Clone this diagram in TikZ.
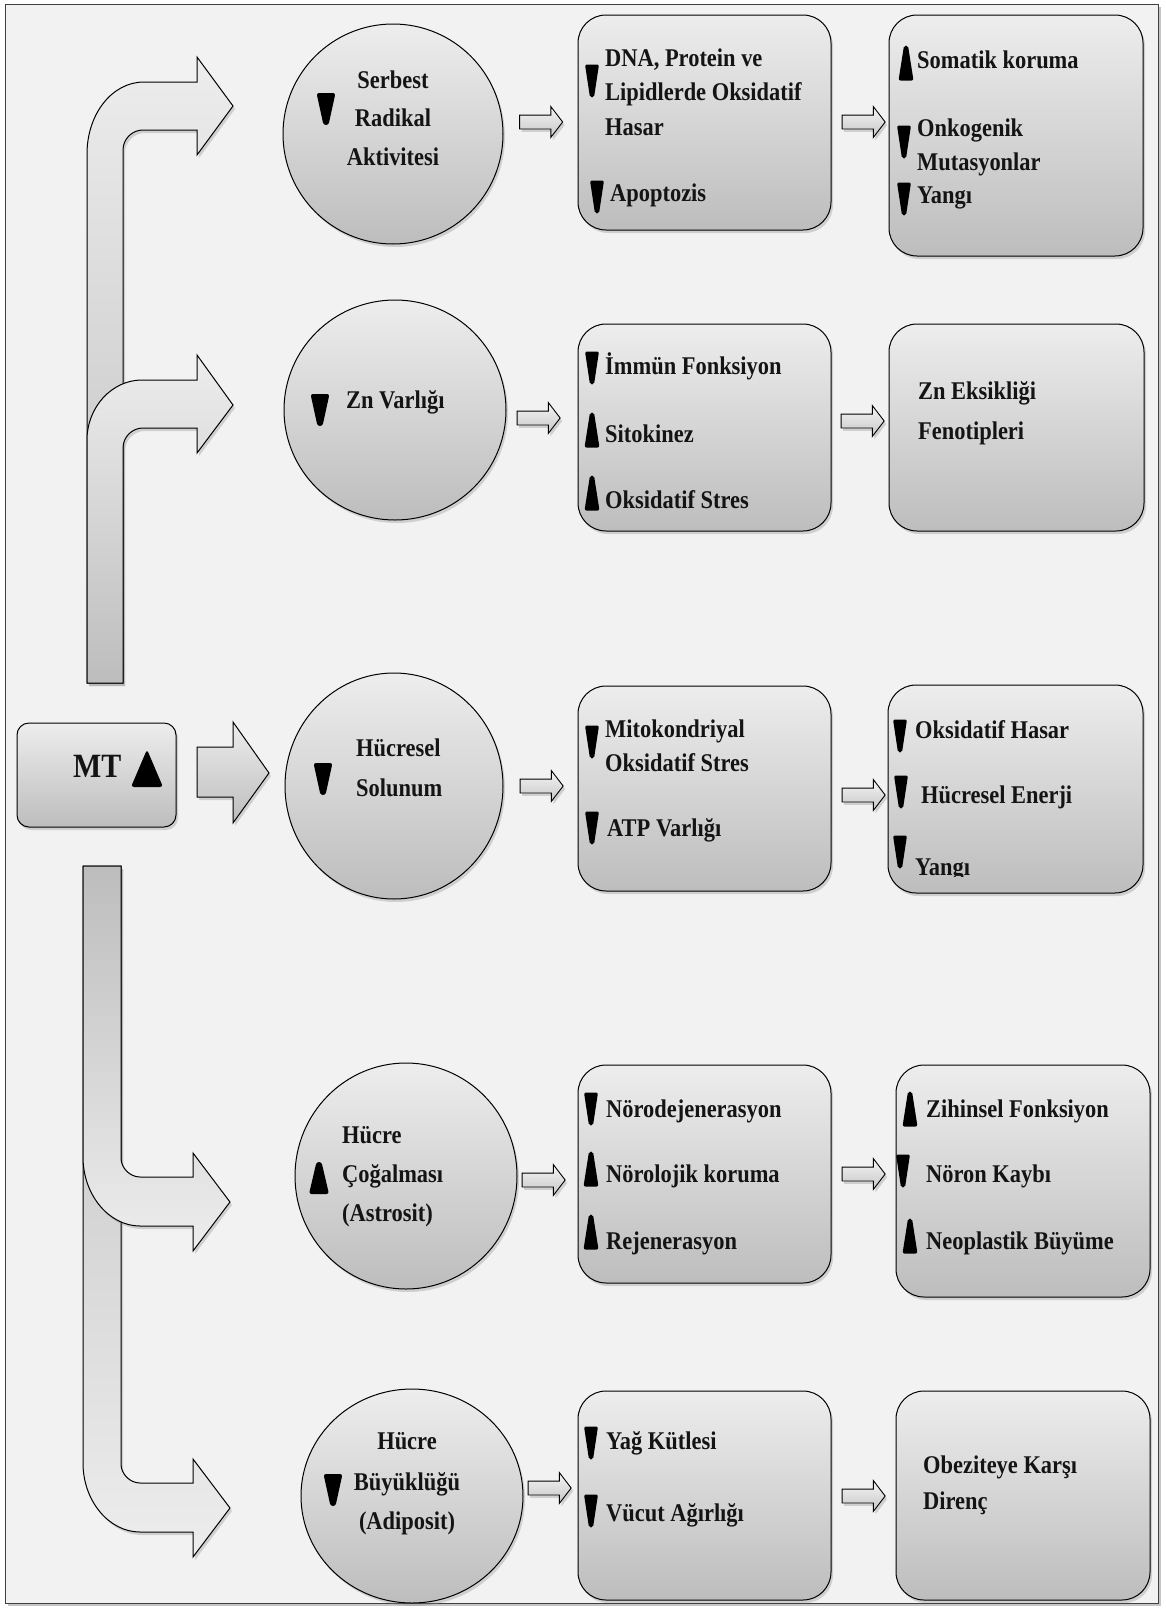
\documentclass[tikz,border=0pt]{standalone}
\usepackage{fontspec}
\setmainfont{Liberation Serif}[FakeStretch=0.88]
\usetikzlibrary{shapes.geometric,shapes.arrows,shadows}
\definecolor{bgc}{HTML}{F2F2F2}
\definecolor{topc}{HTML}{EDEDED}
\definecolor{botc}{HTML}{BDBDBD}
\definecolor{txt}{HTML}{141414}
\begin{document}
\begin{tikzpicture}[x=1pt,y=-1pt,
  every node/.style={font=\fontsize{25.5}{30}\selectfont\bfseries, inner sep=0pt, text=txt},
  shd/.style={drop shadow={shadow xshift=2pt,shadow yshift=-3pt,opacity=0.3}},
  gshade/.style={top color=topc,bottom color=botc},
  rshade/.style={top color=botc,bottom color=topc},
  circ/.style={ellipse,draw=black,line width=1pt,gshade,shd},
  rbox/.style={rectangle,rounded corners=28pt,draw=black,line width=1pt,gshade,shd},
  sarrow/.style={single arrow,draw=black,line width=0.9pt,inner xsep=0pt,inner ysep=6.5pt,
     single arrow head extend=8.5pt,single arrow tip angle=105,minimum height=43pt,
     top color=white!96!black,bottom color=black!22,shd},
  barrow/.style={draw=black,line width=1pt,shd},
  lbl/.style={anchor=mid west,yshift=-6pt},
  ctr/.style={anchor=mid,yshift=-6pt},
  dnbox/.pic={\fill[black,rounded corners=2pt] (-7,-16.5) -- (7,-16.5) -- (2,16.5) -- (-2,16.5) -- cycle;},
  upbox/.pic={\fill[black,rounded corners=2pt] (-2,-17.5) -- (2,-17.5) -- (7.5,17.5) -- (-7.5,17.5) -- cycle;},
  dncirc/.pic={\fill[black,rounded corners=2.5pt] (-9.5,-16) -- (9.5,-16) -- (2.5,16) -- (-2.5,16) -- cycle;},
  upcirc/.pic={\fill[black,rounded corners=2.5pt] (-2.5,-16) -- (2.5,-16) -- (10,16) -- (-10,16) -- cycle;},
  uptri/.pic={\fill[black,rounded corners=3pt] (0,-19) -- (16,18.5) -- (-16,18.5) -- cycle;}
]
\useasboundingbox (0,0) rectangle (1165,1609);
\fill[white] (0,0) rectangle (1165,1609);
% frame
\path[fill=bgc,draw=black!75,line width=1pt,drop shadow={shadow xshift=3pt,shadow yshift=-3pt,opacity=0.45}] (5,4) rectangle (1158,1603);

% bent arrows (top)
\path[barrow,gshade] (87,683) -- (87,154) .. controls (87,114) and (112,82) .. (144,82) -- (197,82) -- (197,57) -- (233,106) -- (197,155) -- (197,130) -- (143,130) .. controls (132,130) and (123,139) .. (123,150) -- (123,683) -- cycle;
\path[barrow,gshade] (87,683) -- (87,440) .. controls (87,407) and (112,380) .. (142,380) -- (197,380) -- (197,355) -- (233,405) -- (197,453) -- (197,428) -- (143,428) .. controls (132,428) and (123,437) .. (123,448) -- (123,683) -- cycle;
% bent arrows (bottom)
\path[barrow,rshade] (83,866) -- (83,1463) .. controls (83,1501) and (109,1532) .. (140,1532) -- (193,1532) -- (193,1557) -- (230,1508) -- (193,1459) -- (193,1483) -- (140,1483) .. controls (130,1483) and (121,1474) .. (121,1464) -- (121,866) -- cycle;
\path[barrow,rshade] (83,866) -- (83,1157) .. controls (83,1195) and (109,1226) .. (140,1226) -- (193,1226) -- (193,1251) -- (230,1202) -- (193,1153) -- (193,1177) -- (140,1177) .. controls (130,1177) and (121,1168) .. (121,1158) -- (121,866) -- cycle;
% MT arrow
\path[barrow,gshade] (197,747) -- (233,747) -- (233,722) -- (269,773) -- (233,823) -- (233,797) -- (197,797) -- cycle;

% MT box
\node[rbox,rounded corners=12pt,minimum width=159pt,minimum height=104pt] (mt) at (96.5,775) {};
\node[anchor=base west,font=\fontsize{34}{40}\selectfont\bfseries] (mtt) at (73,777) {MT};
\pic at (147,768.5) {uptri};

% circles
\node[circ,minimum width=220pt,minimum height=220pt] (c1) at (393,134) {};
\node[circ,minimum width=222pt,minimum height=220pt] (c2) at (395,410) {};
\node[circ,minimum width=218pt,minimum height=226pt] (c3) at (394,786) {};
\node[circ,minimum width=222pt,minimum height=226pt] (c4) at (406,1176) {};
\node[circ,minimum width=222pt,minimum height=214pt] (c5) at (412,1496) {};

% boxes
\node[rbox,minimum width=253pt,minimum height=215pt] (b11) at (704.5,122.5) {};
\node[rbox,minimum width=254pt,minimum height=241pt] (b12) at (1016,135.5) {};
\node[rbox,minimum width=253pt,minimum height=207pt] (b21) at (704.5,427.5) {};
\node[rbox,minimum width=255pt,minimum height=207pt] (b22) at (1016.5,427.5) {};
\node[rbox,minimum width=253pt,minimum height=205pt] (b31) at (704.5,788.5) {};
\node[rbox,minimum width=255pt,minimum height=208pt] (b32) at (1015.5,789) {};
\node[rbox,minimum width=253pt,minimum height=218pt] (b41) at (704.5,1174) {};
\node[rbox,minimum width=254pt,minimum height=232pt] (b42) at (1023,1181) {};
\node[rbox,minimum width=253pt,minimum height=209pt] (b51) at (704.5,1495.5) {};
\node[rbox,minimum width=254pt,minimum height=209pt] (b52) at (1023,1495.5) {};

% small arrows
\node[sarrow] (a11) at (538.5,122) {};
\node[sarrow] (a12) at (861,122) {};
\node[sarrow] (a21) at (536,418) {};
\node[sarrow] (a22) at (860,421) {};
\node[sarrow] (a31) at (539,786) {};
\node[sarrow] (a32) at (861,795) {};
\node[sarrow] (a41) at (541,1180) {};
\node[sarrow] (a42) at (861,1174) {};
\node[sarrow] (a51) at (547,1488) {};
\node[sarrow] (a52) at (861,1496) {};

% circle texts
\node[ctr] (t11) at (393,80) {Serbest};
\node[ctr] (t12) at (393,118) {Radikal};
\node[ctr] (t13) at (393,157) {Aktivitesi};
\pic at (326,109) {dncirc};
\node[lbl] (t21) at (346,400) {Zn Varlığı};
\pic at (320,410) {dncirc};
\node[lbl] (t31) at (356,748) {Hücresel};
\node[lbl] (t32) at (356,788) {Solunum};
\pic at (323,779) {dncirc};
\node[lbl] (t41) at (342,1135) {Hücre};
\node[lbl] (t42) at (342,1174) {Çoğalması};
\node[lbl] (t43) at (342,1213) {(Astrosit)};
\pic at (319,1178) {upcirc};
\node[ctr] (t51) at (407,1441) {Hücre};
\node[ctr] (t52) at (407,1482) {Büyüklüğü};
\node[ctr] (t53) at (407,1521) {(Adiposit)};
\pic at (333,1490) {dncirc};

% box texts row 1
\node[lbl] (u111) at (605,58) {DNA, Protein ve};
\node[lbl] (u112) at (605,92) {Lipidlerde Oksidatif};
\node[lbl] (u113) at (605,127) {Hasar};
\node[lbl] (u114) at (610,193) {Apoptozis};
\pic at (592,81) {dnbox};
\pic at (597,197) {dnbox};
\node[lbl] (u121) at (917,60) {Somatik koruma};
\node[lbl] (u122) at (917,128) {Onkogenik};
\node[lbl] (u123) at (917,162) {Mutasyonlar};
\node[lbl] (u124) at (917,195) {Yangı};
\pic at (906,63) {upbox};
\pic at (904,142) {dnbox};
\pic at (904,199) {dnbox};
% row 2
\node[lbl] (u211) at (605,366) {İmmün Fonksiyon};
\node[lbl] (u212) at (605,434) {Sitokinez};
\node[lbl] (u213) at (605,500) {Oksidatif Stres};
\pic at (592,368) {dnbox};
\pic at (592,430) {upbox};
\pic at (592,493) {upbox};
\node[lbl] (u221) at (918,391) {Zn Eksikliği};
\node[lbl] (u222) at (918,431) {Fenotipleri};
% row 3
\node[lbl] (u311) at (605,729) {Mitokondriyal};
\node[lbl] (u312) at (605,763) {Oksidatif Stres};
\node[lbl] (u313) at (607,828) {ATP Varlığı};
\pic at (592,742) {dnbox};
\pic at (592,828) {dnbox};
\node[lbl] (u321) at (915,730) {Oksidatif Hasar};
\node[lbl] (u322) at (921,795) {Hücresel Enerji};
\begin{scope}
\clip (880,820) rectangle (1140,876);
\node[anchor=base west] (u323) at (915,875) {Yangı};
\end{scope}
\pic at (900,736) {dnbox};
\pic at (901,792) {dnbox};
\pic at (900,852) {dnbox};
% row 4
\node[lbl] (u411) at (606,1109) {Nörodejenerasyon};
\node[lbl] (u412) at (606,1174) {Nörolojik koruma};
\node[lbl] (u413) at (606,1241) {Rejenerasyon};
\pic at (591,1109) {dnbox};
\pic at (591,1169) {upbox};
\pic at (591,1232) {upbox};
\node[lbl] (u421) at (926,1109) {Zihinsel Fonksiyon};
\node[lbl] (u422) at (926,1174) {Nöron Kaybı};
\node[lbl] (u423) at (926,1241) {Neoplastik Büyüme};
\pic at (910,1109) {upbox};
\pic at (903,1171) {dnbox};
\pic at (910,1236) {upbox};
% row 5
\node[lbl] (u511) at (606,1441) {Yağ Kütlesi};
\node[lbl] (u512) at (606,1513) {Vücut Ağırlığı};
\pic at (591,1443) {dnbox};
\pic at (591,1511) {dnbox};
\node[lbl] (u521) at (923,1465) {Obeziteye Karşı};
\node[lbl] (u522) at (923,1501) {Direnç};
\end{tikzpicture}
\end{document}
